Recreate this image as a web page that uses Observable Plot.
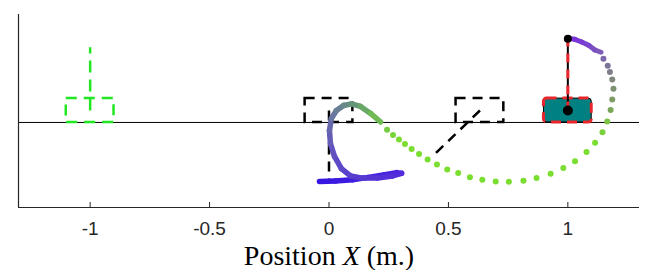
<!DOCTYPE html>
<html>
<head>
<meta charset="utf-8">
<script src="https://cdn.jsdelivr.net/npm/d3@7"></script>
<script src="https://cdn.jsdelivr.net/npm/@observablehq/plot@0.6"></script>
<style>
  html, body { margin: 0; padding: 0; background: white; }
</style>
</head>
<body>
<div id="chart"></div>
<script>
// ---- data ----
const xTicks = [-1, -0.5, 0, 0.5, 1];
const xTickLabels = ["-1", "-0.5", "0", "0.5", "1"];
const xLabelText = "Position X (m.)";

// snapshots of the cart: cart position and pole-tip position
const greenSnapX = [-1];
const greenTipX = [-1];
const greenTipY = [0.315];

const blackSnapX = [0, 0.632];
const blackTipX = [0, 0.44];
const blackTipY = [-0.25, -0.135];

const finalSnapX = [1];
const finalTipX = [1];
const finalTipY = [0.35];

// pole-tip trail: slow (dense) part at the start
const trailStartX = [-0.040, 0.027, 0.098, 0.165, 0.233, 0.283, 0.304, 0.266, 0.203, 0.140, 0.090, 0.052, 0.023, 0.006, 0.002, 0.010, 0.031, 0.061, 0.094, 0.132, 0.174, 0.216];
const trailStartY = [-0.247, -0.245, -0.240, -0.230, -0.219, -0.210, -0.213, -0.224, -0.233, -0.233, -0.224, -0.193, -0.142, -0.088, -0.034, 0.017, 0.050, 0.071, 0.078, 0.067, 0.038, 0.002];
const trailStartC = [0, 0.05, 0.1, 0.16, 0.22, 0.27, 0.3, 0.32, 0.34, 0.36, 0.38, 0.41, 0.44, 0.47, 0.5, 0.54, 0.58, 0.62, 0.66, 0.72, 0.8, 0.88];

// fast part, individual samples
const trailDotX = [0.243, 0.268, 0.293, 0.318, 0.346, 0.377, 0.413, 0.452, 0.495, 0.541, 0.590, 0.642, 0.698, 0.753, 0.814, 0.869, 0.928, 0.981, 1.030, 1.078, 1.114, 1.145, 1.165, 1.179, 1.186, 1.191, 1.186, 1.176, 1.167, 1.149];
const trailDotY = [-0.031, -0.052, -0.071, -0.090, -0.111, -0.132, -0.155, -0.176, -0.197, -0.212, -0.229, -0.240, -0.247, -0.248, -0.244, -0.233, -0.215, -0.191, -0.162, -0.124, -0.085, -0.041, 0.004, 0.052, 0.096, 0.141, 0.180, 0.211, 0.237, 0.267];
const trailDotC = [0.92, 0.96, 1, 1, 1, 1, 1, 1, 1, 1, 1, 1, 1, 1, 1, 1, 1, 1, 1, 1, 1, 1.05, 1.1, 1.2, 1.28, 1.36, 1.43, 1.49, 1.54, 1.6];

// slow (dense) part at the end
const trailEndX = [1.139, 1.112, 1.087, 1.058, 1.029, 1.004];
const trailEndY = [0.294, 0.304, 0.323, 0.337, 0.348, 0.352];
const trailEndC = [1.66, 1.74, 1.82, 1.88, 1.94, 2.0];

// colour stops of the trail colouring
const colorDomain = [0, 0.3, 0.45, 0.55, 0.7, 1, 1.2, 1.45, 1.6, 2];
const colorRange = ["#3614e2", "#5028de", "#6050c0", "#6a72a4", "#659a74", "#7ade30", "#7aa858", "#80847f", "#7c68aa", "#7a2ee0"];

// cart geometry
const cartW = 0.2, cartH = 0.1;

// ---- build tables ----
const snaps = (xs, tx, ty) => xs.map((x, i) => ({x, tipX: tx[i], tipY: ty[i]}));
const greenSnaps = snaps(greenSnapX, greenTipX, greenTipY);
const blackSnaps = snaps(blackSnapX, blackTipX, blackTipY);
const finalSnaps = snaps(finalSnapX, finalTipX, finalTipY);

const pts = (xs, ys, cs) => xs.map((x, i) => ({x, y: ys[i], c: cs[i]}));
const segs = (p) => d3.pairs(p).map(([a, b]) => ({x1: a.x, y1: a.y, x2: b.x, y2: b.y, c: (a.c + b.c) / 2}));
const startSegs = segs(pts(trailStartX, trailStartY, trailStartC));
const endSegs = segs(pts(trailEndX, trailEndY, trailEndC));
const dots = pts(trailDotX, trailDotY, trailDotC);

const cartRect = (data, opts) => Plot.rect(data, {
  x1: d => d.x - cartW / 2, x2: d => d.x + cartW / 2,
  y1: () => 0, y2: () => cartH, ...opts
});
const pole = (data, opts) => Plot.link(data, {
  x1: "x", y1: () => cartH / 2, x2: "tipX", y2: "tipY", ...opts
});

const green = "#22e622";
const axisColor = "#262626";

const chart = Plot.plot({
  width: 660,
  height: 270,
  marginLeft: 18,
  marginRight: 21,
  marginTop: 14,
  marginBottom: 63,
  x: {domain: [-1.3, 1.3]},
  y: {domain: [-0.356, 0.452], axis: null},
  color: {type: "linear", domain: colorDomain, range: colorRange, interpolate: "rgb"},
  style: {background: "white", color: axisColor, fontFamily: "'Liberation Sans', Arial, sans-serif", fontSize: "19px"},
  marks: [
    Plot.ruleY([0], {stroke: "black", strokeWidth: 1}),
    Plot.ruleX([-1.3], {stroke: axisColor, strokeWidth: 1.2}),
    Plot.ruleY([-0.356], {stroke: axisColor, strokeWidth: 1.2}),
    Plot.axisX(xTicks, {tickSize: -5, fill: "none", label: null, stroke: axisColor}),
    Plot.axisX(xTicks, {tickSize: 0, tickPadding: 14, label: null, tickFormat: d => xTickLabels[xTicks.indexOf(d)]}),
    // green dashed snapshot
    cartRect(greenSnaps, {fill: "none", stroke: green, strokeWidth: 2.5, strokeDasharray: "11,7"}),
    pole(greenSnaps, {stroke: green, strokeWidth: 2.5, strokeDasharray: "12,7"}),
    // black dashed snapshots
    cartRect(blackSnaps, {fill: "none", stroke: "black", strokeWidth: 2.5, strokeDasharray: "10,7"}),
    pole(blackSnaps, {stroke: "black", strokeWidth: 2.5, strokeDasharray: "10,7"}),
    // trail
    Plot.link(startSegs, {x1: "x1", y1: "y1", x2: "x2", y2: "y2", stroke: "c", strokeWidth: 5.5, strokeLinecap: "round"}),
    Plot.dot(dots, {x: "x", y: "y", r: 3, fill: "c"}),
    Plot.link(endSegs, {x1: "x1", y1: "y1", x2: "x2", y2: "y2", stroke: "c", strokeWidth: 5, strokeLinecap: "round"}),
    // final cart
    cartRect(finalSnaps, {fill: "#008080", stroke: "black", strokeWidth: 1, rx: 3}),
    cartRect(finalSnaps, {fill: "none", stroke: "#e8262b", strokeWidth: 3, strokeDasharray: "10,6", rx: 3}),
    pole(finalSnaps, {stroke: "black", strokeWidth: 2}),
    pole(finalSnaps, {stroke: "#e8262b", strokeWidth: 3, strokeDasharray: "9,7"}),
    Plot.dot(finalSnaps, {x: "x", y: () => cartH / 2, r: 5, fill: "black"}),
    Plot.dot(finalSnaps, {x: "tipX", y: "tipY", r: 4, fill: "black"}),
    // x label
    Plot.text([xLabelText], {frameAnchor: "bottom", dy: 57, text: d => d, fontFamily: "'Liberation Serif', 'Times New Roman', serif", fontSize: 28, fill: "black"})
  ]
});

// italicise the "X" in the axis label
d3.select(chart).selectAll("text").filter(function() { return this.textContent === xLabelText; })
  .each(function() {
    const t = d3.select(this);
    t.text(null);
    t.append("tspan").text("Position ");
    t.append("tspan").attr("font-style", "italic").text("X");
    t.append("tspan").text(" (m.)");
  });

document.getElementById("chart").appendChild(chart);
</script>
</body>
</html>
